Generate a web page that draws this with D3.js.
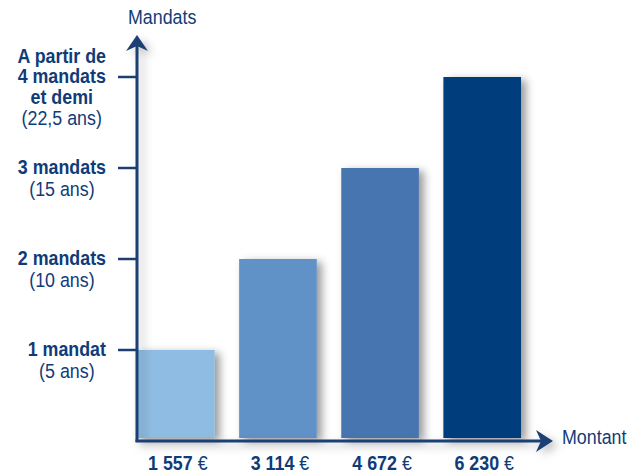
<!DOCTYPE html>
<html><head><meta charset="utf-8">
<script src="https://cdn.jsdelivr.net/npm/d3@7"></script>
<style>
html,body{margin:0;padding:0;background:#fff;}
svg text{font-family:"Liberation Sans Narrow","Liberation Sans",Arial,sans-serif;}
</style></head>
<body>
<svg id="c" width="631" height="473"></svg>
<script>
const categories = ["1 557", "3 114", "4 672", "6 230"];
const mandats = [1, 2, 3, 4];
const barColors = ["#8fbce2", "#6191c7", "#4675af", "#043d7d"];
const tickValues = [1, 2, 3, 4];
const tickBold = [["1 mandat"], ["2 mandats"], ["3 mandats"], ["A partir de", "4 mandats", "et demi"]];
const tickAnchorLine = [0, 0, 0, 1];
const tickSub = ["(5 ans)", "(10 ans)", "(15 ans)", "(22,5 ans)"];
const yTitle = "Mandats";
const xTitle = "Montant";
const currency = "€";

const svg = d3.select("#c");
const navy = "#0f3c78";
const axisCol = "#1c3f73";
const FS = 20.5, SX = 0.87;

const x = d3.scaleBand().domain(categories).range([137, 521]).paddingInner(0.24).paddingOuter(0);
const y = d3.scaleLinear().domain([0, 4]).range([441, 77]);

const defs = svg.append("defs");
const f = defs.append("filter").attr("id", "sh").attr("x", "-30%").attr("y", "-10%").attr("width", "170%").attr("height", "130%");
f.append("feDropShadow").attr("dx", 5).attr("dy", 3).attr("stdDeviation", 4.5).attr("flood-color", "#000").attr("flood-opacity", 0.4);
const f2 = defs.append("filter").attr("id", "sh2").attr("x", "-50%").attr("y", "-10%").attr("width", "200%").attr("height", "130%");
f2.append("feDropShadow").attr("dx", 5).attr("dy", 4).attr("stdDeviation", 4).attr("flood-color", "#000").attr("flood-opacity", 0.25);

// bars
svg.append("g").selectAll("rect").data(categories).join("rect")
  .attr("x", d => x(d))
  .attr("y", (d, i) => y(mandats[i]))
  .attr("width", x.bandwidth())
  .attr("height", (d, i) => y(0) - 3 - y(mandats[i]))
  .attr("fill", (d, i) => barColors[i])
  .attr("filter", "url(#sh)");

// axes
const ax = svg.append("g").attr("filter", "url(#sh2)");
const x0 = x.range()[0];
ax.append("line").attr("x1", x0).attr("x2", x0).attr("y1", y(0) + 1).attr("y2", 44)
  .attr("stroke", axisCol).attr("stroke-width", 3);
ax.append("line").attr("x1", x0 - 1.5).attr("x2", 545).attr("y1", y(0)).attr("y2", y(0))
  .attr("stroke", axisCol).attr("stroke-width", 3);
ax.append("path").attr("d", `M${x0},35 L${x0+11},51 L${x0},46 L${x0-11},51 Z`).attr("fill", axisCol);
ax.append("path").attr("d", `M553,${y(0)} L536,${y(0)-11} L541,${y(0)} L536,${y(0)+11} Z`).attr("fill", axisCol);

// y ticks
svg.append("g").selectAll("line").data(tickValues).join("line")
  .attr("x1", 118).attr("x2", x0).attr("y1", d => y(d)).attr("y2", d => y(d))
  .attr("stroke", axisCol).attr("stroke-width", 2.5);

// y tick labels
const lh = 20.5;
tickValues.forEach((v, i) => {
  const lines = tickBold[i].map(t => ({t, bold: true})).concat([{t: tickSub[i], bold: false}]);
  const base0 = y(v) + 6 - tickAnchorLine[i] * lh;
  const g = svg.append("g");
  const texts = g.selectAll("text").data(lines).join("text")
    .attr("font-size", FS)
    .attr("font-weight", d => d.bold ? "bold" : "normal")
    .attr("fill", navy)
    .attr("text-anchor", "middle")
    .text(d => d.t);
  let maxW = 0;
  texts.each(function() { maxW = Math.max(maxW, this.getComputedTextLength() * SX); });
  const cx = 106 - maxW / 2;
  texts.attr("transform", (d, j) => `translate(${cx},${base0 + j * lh + (d.bold ? 0 : 1)}) scale(${SX},1)`);
});

// titles
svg.append("text").attr("transform", `translate(128,24) scale(${SX},1)`).attr("font-size", FS).attr("fill", navy).text(yTitle);
svg.append("text").attr("transform", `translate(562,444) scale(${SX},1)`).attr("font-size", FS).attr("fill", navy).text(xTitle);

// x labels
categories.forEach(c => {
  const t = svg.append("text").attr("transform", `translate(${x(c) + x.bandwidth() / 2 + 2},470) scale(${SX},1)`)
    .attr("text-anchor", "middle").attr("font-size", FS).attr("fill", navy);
  t.append("tspan").attr("font-weight", "bold").text(c);
  t.append("tspan").text(" " + currency);
});
</script>
</body></html>
